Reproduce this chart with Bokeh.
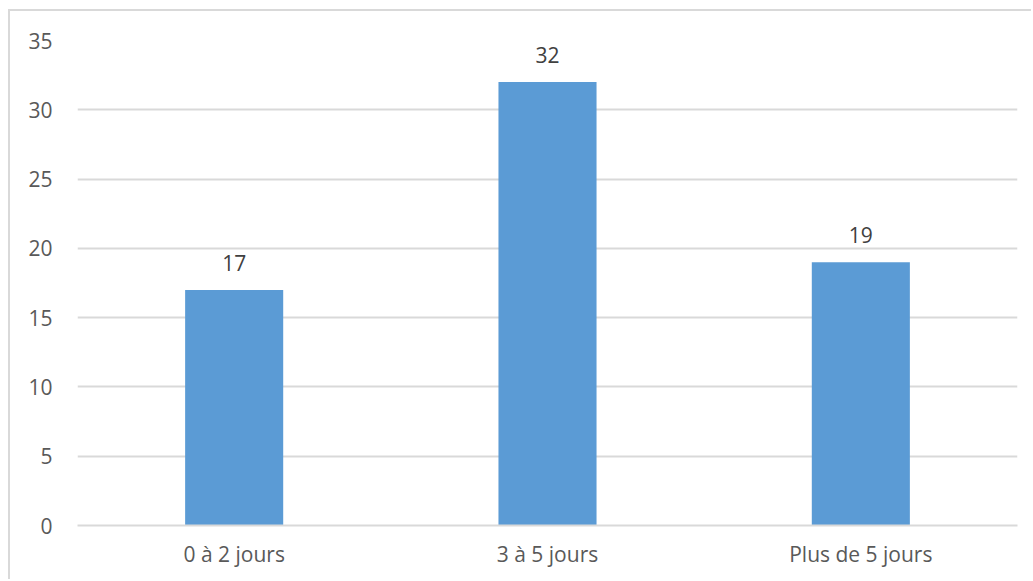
from bokeh.plotting import figure
from bokeh.models import ColumnDataSource, LabelSet, FixedTicker, Range1d, FactorRange
from bokeh.core.properties import value
from bokeh.embed import file_html
from bokeh.resources import INLINE

categories = ["0 à 2 jours", "3 à 5 jours", "Plus de 5 jours"]
values = [17, 32, 19]
y_ticks = [0, 5, 10, 15, 20, 25, 30, 35]
value_labels = [str(v) for v in values]

FONT = "Open Sans"
BAR_COLOR = "#5B9BD5"
GRID_COLOR = "#d9d9d9"
TEXT_COLOR = "#595959"

source = ColumnDataSource(dict(cat=categories, val=values, lab=value_labels))

p = figure(
    x_range=FactorRange(*categories, range_padding=0),
    y_range=Range1d(0, 35),
    width=1023, height=570,
    output_backend="svg", toolbar_location=None,
    min_border_left=67, min_border_right=16, min_border_top=29, min_border_bottom=56,
)
p.styles = {"border-left": "2px solid #d9d9d9", "border-top": "2px solid #d9d9d9",
            "margin-left": "8px", "margin-top": "9px"}
p.outline_line_color = None
p.background_fill_color = "white"
p.border_fill_color = "white"

p.vbar(x="cat", top="val", width=0.313, source=source, color=BAR_COLOR, line_color=None)

labels = LabelSet(x="cat", y="val", text="lab", source=source, text_align="center",
                  text_baseline="alphabetic", y_offset=19, text_font_size="21px",
                  text_color="#404040", text_font=value(FONT))
p.add_layout(labels)

p.yaxis.ticker = FixedTicker(ticks=y_ticks)
p.yaxis.axis_line_color = None
p.yaxis.major_tick_line_color = None
p.yaxis.minor_tick_line_color = None
p.yaxis.major_label_standoff = 19
p.yaxis.major_label_text_font_size = "21px"
p.yaxis.major_label_text_color = TEXT_COLOR
p.yaxis.major_label_text_font = FONT

p.xaxis.axis_line_color = GRID_COLOR
p.xaxis.axis_line_width = 2
p.xaxis.major_tick_line_color = None
p.xaxis.minor_tick_line_color = None
p.xaxis.major_label_standoff = 8
p.xaxis.major_label_text_font_size = "21px"
p.xaxis.major_label_text_color = TEXT_COLOR
p.xaxis.major_label_text_font = FONT

p.xgrid.grid_line_color = None
p.ygrid.grid_line_color = GRID_COLOR
p.ygrid.grid_line_width = 2

open("out.html", "w").write(file_html(p, INLINE))
